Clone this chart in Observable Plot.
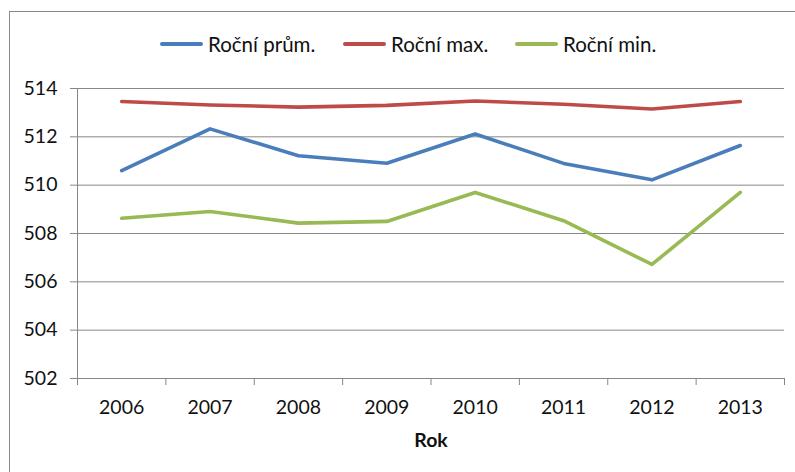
<!DOCTYPE html>
<html>
<head>
<meta charset="utf-8">
<script src="https://cdn.jsdelivr.net/npm/d3@7"></script>
<script src="https://cdn.jsdelivr.net/npm/@observablehq/plot@0.6"></script>
<style>
  html, body { margin: 0; padding: 0; background: #fff; }
  body { width: 795px; height: 472px; overflow: hidden; position: relative; font-family: Lato, "Open Sans", sans-serif; }
  #frame { position: absolute; left: 9px; top: 11px; width: 800px; height: 480px; border: 1.5px solid #888; box-sizing: border-box; }
  #legend { position: absolute; left: 0; top: 31px; width: 795px; height: 26px; font-size: 20.5px; color: #111; white-space: nowrap; }
  .item { position: absolute; top: 0; display: flex; align-items: center; height: 26px; }
  .sw { display: inline-block; width: 43px; height: 4px; border-radius: 2px; margin-right: 5px; }
  #chart { position: absolute; left: 0; top: 60px; }
</style>
</head>
<body>
<div id="frame"></div>
<div id="legend"></div>
<div id="chart"></div>
<script>
const years = [2006, 2007, 2008, 2009, 2010, 2011, 2012, 2013];
const seriesNames = ["Roční prům.", "Roční max.", "Roční min."];
const seriesColors = ["#4A7EBB", "#BE4B48", "#98B954"];
const meanValues = [510.6, 512.33, 511.22, 510.91, 512.12, 510.9, 510.22, 511.64];
const maxValues = [513.46, 513.32, 513.23, 513.3, 513.48, 513.35, 513.15, 513.46];
const minValues = [508.63, 508.91, 508.43, 508.5, 509.7, 508.53, 506.72, 509.7];
const yTicks = [502, 504, 506, 508, 510, 512, 514];
const xTitle = "Rok";

const seriesValues = [meanValues, maxValues, minValues];
const rows = [];
seriesNames.forEach((name, i) => {
  years.forEach((yr, j) => rows.push({ series: name, year: yr, value: seriesValues[i][j] }));
});
const boundaries = years.map(y => y - 0.5).concat([years[years.length - 1] + 0.5]);

// legend (item left offsets are layout only)
const legendLefts = [160, 343, 515];
const legend = document.getElementById("legend");
seriesNames.forEach((name, i) => {
  const item = document.createElement("div");
  item.className = "item";
  item.style.left = legendLefts[i] + "px";
  const sw = document.createElement("span");
  sw.className = "sw";
  sw.style.background = seriesColors[i];
  const t = document.createElement("span");
  t.textContent = name;
  item.appendChild(sw);
  item.appendChild(t);
  legend.appendChild(item);
});

const grid = "#878787";
const chart = Plot.plot({
  width: 795,
  height: 412,
  marginLeft: 77,
  marginRight: 11,
  marginTop: 28,
  marginBottom: 94,
  style: { fontFamily: "Lato, 'Open Sans', sans-serif", fontSize: "19px", color: "#111", background: "transparent" },
  x: { type: "linear", domain: [boundaries[0], boundaries[boundaries.length - 1]] },
  y: { domain: [yTicks[0], yTicks[yTicks.length - 1]] },
  color: { domain: seriesNames, range: seriesColors },
  marks: [
    Plot.gridY(yTicks, { stroke: grid, strokeOpacity: 1 }),
    Plot.ruleX([boundaries[0]], { stroke: grid }),
    Plot.ruleY([yTicks[0]], { stroke: grid }),
    Plot.axisY({ ticks: yTicks, tickSize: 7, tickPadding: 13, stroke: grid, fill: "#111", fontSize: 19.5, label: null, tickFormat: d => String(d) }),
    Plot.axisX({ ticks: boundaries, tickSize: 7, stroke: grid, tickFormat: () => "", label: null }),
    Plot.axisX({ ticks: years, tickSize: 0, tickPadding: 22, fill: "#111", fontSize: 19.5, label: null, tickFormat: d => String(d) }),
    Plot.line(rows, { x: "year", y: "value", z: "series", stroke: "series", strokeWidth: 3.6, strokeLinejoin: "round", strokeLinecap: "round" }),
    Plot.text([xTitle], { frameAnchor: "bottom", lineAnchor: "middle", dy: 62, fontWeight: "bold", fontSize: 19.5, fill: "#111" })
  ]
});
document.getElementById("chart").appendChild(chart);
</script>
</body>
</html>
